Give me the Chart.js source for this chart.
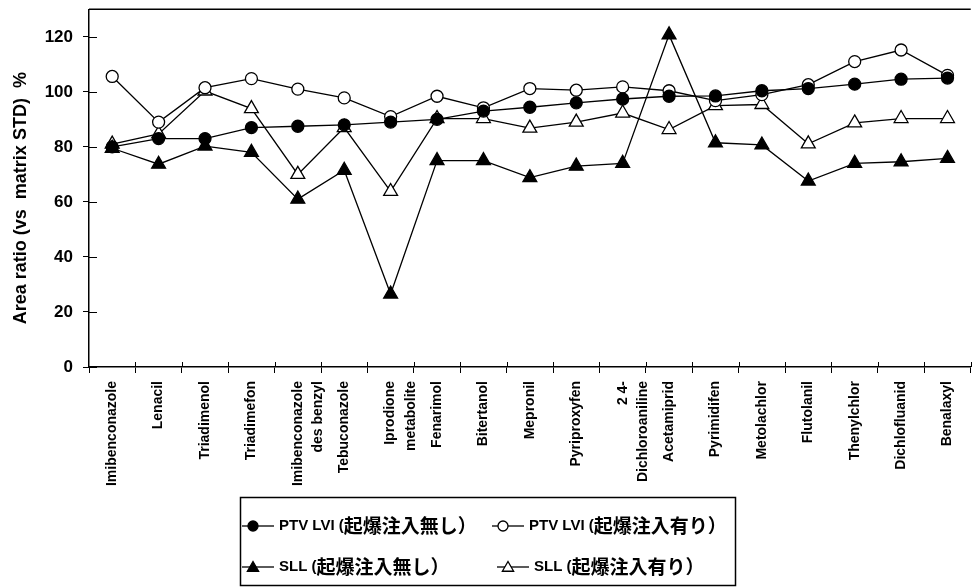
<!DOCTYPE html>
<html>
<head>
<meta charset="utf-8">
<script src="https://cdn.jsdelivr.net/npm/chart.js@4.4.1/dist/chart.umd.min.js"></script>
<style>
  html, body { margin: 0; padding: 0; background: #fff; overflow: hidden; }
  #wrap { width: 980px; height: 587px; position: relative; }
</style>
</head>
<body>
<div id="wrap"><canvas id="chart"></canvas></div>
<script>
const compounds = [
  'Imibenconazole', 'Lenacil', 'Triadimenol', 'Triadimefon',
  ['Imibenconazole', 'des benzyl'], 'Tebuconazole', ['Iprodione', 'metabolite'],
  'Fenarimol', 'Bitertanol', 'Mepronil', 'Pyriproxyfen', ['2 4-', 'Dichloroaniline'],
  'Acetamiprid', 'Pyrimidifen', 'Metolachlor', 'Flutolanil', 'Thenylchlor',
  'Dichlofluanid', 'Benalaxyl'
];

const ptvNoIgnite   = [80, 83, 83, 87, 87.5, 88, 89, 90, 93, 94.4, 96, 97.4, 98.4, 98.5, 100.4, 101.2, 102.8, 104.6, 105];
const ptvIgnite     = [105.6, 89, 101.5, 104.8, 101, 97.8, 91, 98.4, 94.2, 101.2, 100.6, 101.8, 100.4, 96.8, 99, 102.6, 111, 115.2, 106];
const sllNoIgnite   = [79.5, 73.7, 80.3, 78, 61, 71.5, 26.5, 75, 75, 68.8, 73, 74, 120.7, 81.5, 80.7, 67.6, 74, 74.6, 75.8];
const sllIgnite     = [81, 84.7, 100.3, 93.9, 70, 87, 63.8, 90.3, 90.3, 86.8, 89, 92.3, 86.3, 95, 95.4, 81.1, 88.7, 90.3, 90.3];

const yTicks = [0, 20, 40, 60, 80, 100, 120];

const FONT = "'Liberation Sans', Arial, sans-serif";
const CJK_FONT = "'Noto Sans CJK JP', sans-serif";

// legend: [prefix, cjk part] per dataset, placed in two rows
const legendText = [
  ['PTV LVI (', '起爆注入無し）'],
  ['PTV LVI (', '起爆注入有り）'],
  ['SLL (', '起爆注入無し）'],
  ['SLL (', '起爆注入有り）']
];
const legendRows = [
  [{ ds: 0, x: 240 }, { ds: 1, x: 490 }],
  [{ ds: 2, x: 240 }, { ds: 3, x: 495 }]
];

const frame = {
  id: 'frame',
  afterDraw(chart) {
    const { ctx, chartArea } = chart;
    ctx.save();
    ctx.strokeStyle = '#000';
    ctx.lineWidth = 1.5;
    ctx.beginPath();
    ctx.moveTo(chartArea.left, chartArea.top);
    ctx.lineTo(chartArea.right, chartArea.top);
    ctx.stroke();
    // inner half of the tick marks (they cross the axes in the original)
    const y = chart.scales.y;
    const x = chart.scales.x;
    ctx.lineWidth = 1;
    yTicks.forEach(v => {
      const py = Math.round(y.getPixelForValue(v)) + 0.5;
      ctx.beginPath();
      ctx.moveTo(chartArea.left, py);
      ctx.lineTo(chartArea.left + 8, py);
      ctx.stroke();
    });
    const step = x.getPixelForValue(1) - x.getPixelForValue(0);
    for (let i = 1; i <= compounds.length; i++) {
      const px = Math.round(x.getPixelForValue(i) - step / 2) + 0.5;
      ctx.beginPath();
      ctx.moveTo(px, chartArea.bottom);
      ctx.lineTo(px, chartArea.bottom - 5);
      ctx.stroke();
    }
    ctx.restore();
  }
};

const boxLegend = {
  id: 'boxLegend',
  afterDraw(chart) {
    const ctx = chart.ctx;
    ctx.save();
    ctx.strokeStyle = '#000';
    ctx.lineWidth = 1.5;
    ctx.strokeRect(240.5, 497.5, 495, 88);
    ctx.textBaseline = 'middle';
    const rowY = [526, 567];
    legendRows.forEach((row, r) => {
      row.forEach(item => {
        const ds = chart.data.datasets[item.ds];
        const y = rowY[r];
        ctx.lineWidth = 1.3;
        ctx.strokeStyle = '#000';
        ctx.beginPath();
        ctx.moveTo(item.x + 2, y);
        ctx.lineTo(item.x + 34, y);
        ctx.stroke();
        ctx.fillStyle = ds.pointBackgroundColor;
        const tri = ds.pointStyle === 'triangle';
        Chart.helpers.drawPoint(ctx, {
          pointStyle: ds.pointStyle,
          radius: tri ? 6.5 : 5,
          rotation: 0,
          borderWidth: 1.3
        }, item.x + 13, tri ? y + 1 : y);
        ctx.fillStyle = '#000';
        const parts = legendText[item.ds];
        let tx = item.x + 39;
        ctx.font = 'bold 15px ' + FONT;
        ctx.fillText(parts[0], tx, y);
        tx += ctx.measureText(parts[0]).width;
        ctx.font = 'bold 19px ' + CJK_FONT;
        ctx.fillText(parts[1], tx, y);
      });
    });
    ctx.restore();
  }
};

function makeSet(label, data, style, fill) {
  return {
    label: label,
    data: data,
    borderColor: '#000',
    borderWidth: 1.3,
    tension: 0,
    pointStyle: style,
    pointRadius: style === 'triangle' ? 8 : 6,
    pointBackgroundColor: fill,
    pointBorderColor: '#000',
    pointBorderWidth: 1.3
  };
}

const ctx = document.getElementById('chart').getContext('2d');
new Chart(ctx, {
  type: 'line',
  data: {
    labels: compounds,
    datasets: [
      makeSet('PTV LVI (起爆注入無し)', ptvNoIgnite, 'circle', '#000'),
      makeSet('PTV LVI (起爆注入有り)', ptvIgnite, 'circle', '#fff'),
      makeSet('SLL (起爆注入無し)', sllNoIgnite, 'triangle', '#000'),
      makeSet('SLL (起爆注入有り)', sllIgnite, 'triangle', '#fff')
    ]
  },
  options: {
    responsive: true,
    maintainAspectRatio: false,
    animation: false,
    layout: { padding: { left: 0, top: 7, right: 1, bottom: 100 } },
    plugins: {
      legend: { display: false },
      tooltip: { enabled: false }
    },
    scales: {
      x: {
        offset: true,
        afterFit(scale) {
          scale.height = 120;
          scale.paddingLeft = 0;
          scale.paddingRight = 0;
        },
        grid: { offset: true, drawOnChartArea: false, tickLength: 6, color: '#000' },
        border: { color: '#000', width: 1.5 },
        ticks: {
          minRotation: 90, maxRotation: 90, autoSkip: false, padding: 8,
          color: '#000',
          font: { family: FONT, size: 14, weight: 'bold', lineHeight: 1.45 }
        }
      },
      y: {
        min: 0, max: 130,
        afterFit(scale) {
          scale.width = 89;
          scale.paddingTop = 0;
          scale.paddingBottom = 0;
        },
        afterBuildTicks(scale) {
          scale.ticks = yTicks.map(v => ({ value: v }));
        },
        grid: { drawOnChartArea: false, tickLength: 6, color: '#000' },
        border: { color: '#000', width: 1.5 },
        ticks: {
          padding: 10, color: '#000',
          font: { family: FONT, size: 17, weight: 'bold' }
        },
        title: {
          display: true,
          text: 'Area ratio (vs  matrix STD)  %    ',
          color: '#000',
          padding: { top: 10, bottom: 0 },
          font: { family: FONT, size: 18, weight: 'bold' }
        }
      }
    }
  },
  plugins: [frame, boxLegend]
});
</script>
</body>
</html>
